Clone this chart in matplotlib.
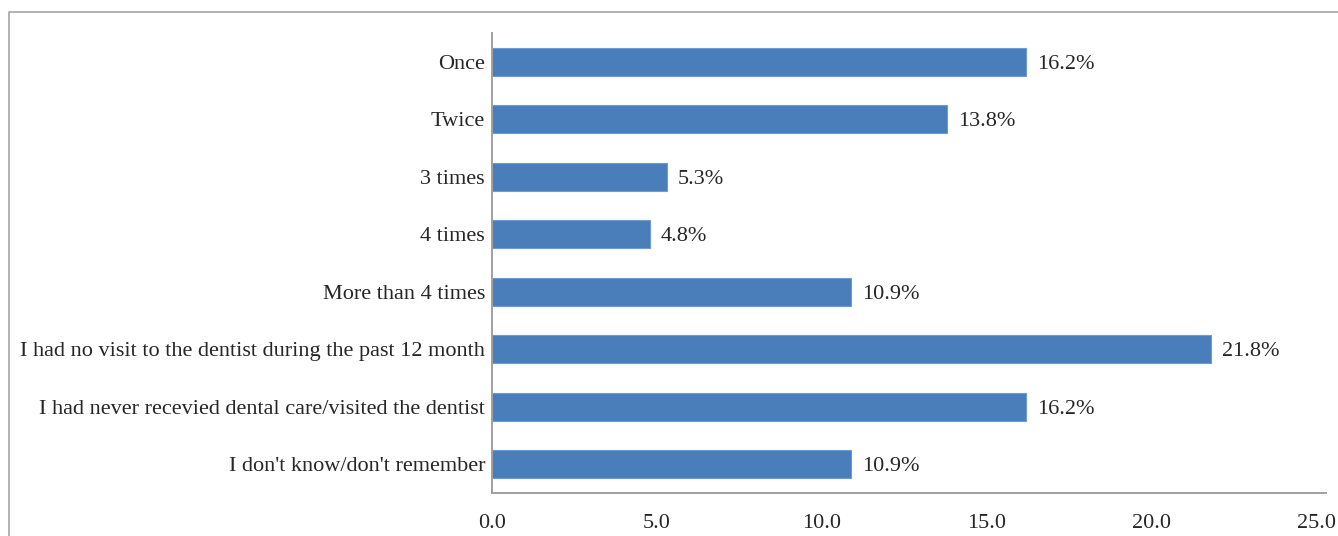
import matplotlib
matplotlib.use("Agg")
import matplotlib.pyplot as plt
from matplotlib.lines import Line2D

categories = [
    "Once",
    "Twice",
    "3 times",
    "4 times",
    "More than 4 times",
    "I had no visit to the dentist during the past 12 month",
    "I had never recevied dental care/visited the dentist",
    "I don't know/don't remember",
]
percentages = [16.2, 13.8, 5.3, 4.8, 10.9, 21.8, 16.2, 10.9]
x_ticks = [0.0, 5.0, 10.0, 15.0, 20.0, 25.0]

plt.rcParams["font.family"] = ["Liberation Serif", "DejaVu Serif"]

W, H = 1338, 536
fig = plt.figure(figsize=(W / 100, H / 100), dpi=100)
ax = fig.add_axes([492 / W, 1 - 493 / H, (1326 - 492) / W, (493 - 33) / H])

ypos = list(range(len(categories)))
ax.barh(ypos, percentages, height=0.48, color="#4a7ebb",
        edgecolor="#6d9bd3", linewidth=0.8)

for y, v in zip(ypos, percentages):
    ax.text(v + 0.33, y, f"{v:.1f}%", va="center_baseline", ha="left",
            fontsize=16, color="#262626")

ax.set_xlim(0, 25.3)
ax.set_ylim(len(categories) - 0.5, -0.5)
ax.set_yticks(ypos)
ax.set_yticklabels(categories, fontsize=16, color="#262626",
                   va="center_baseline")
ax.set_xticks(x_ticks)
ax.set_xticklabels([f"{t:.1f}" for t in x_ticks], fontsize=16, color="#262626")
ax.tick_params(axis="both", length=0)
ax.tick_params(axis="y", pad=5)
ax.tick_params(axis="x", pad=15)

for side in ("top", "right"):
    ax.spines[side].set_visible(False)
for side in ("left", "bottom"):
    ax.spines[side].set_color("#a0a0a0")
    ax.spines[side].set_linewidth(1.4)

# outer chart frame (left and top edges)
frame = Line2D([9 / W, 9 / W, 1.0], [0.0, 1 - 12 / H, 1 - 12 / H],
               transform=fig.transFigure, color="#a6a6a6", linewidth=1.2)
fig.add_artist(frame)

fig.savefig("out.png", dpi=100, facecolor="white")
